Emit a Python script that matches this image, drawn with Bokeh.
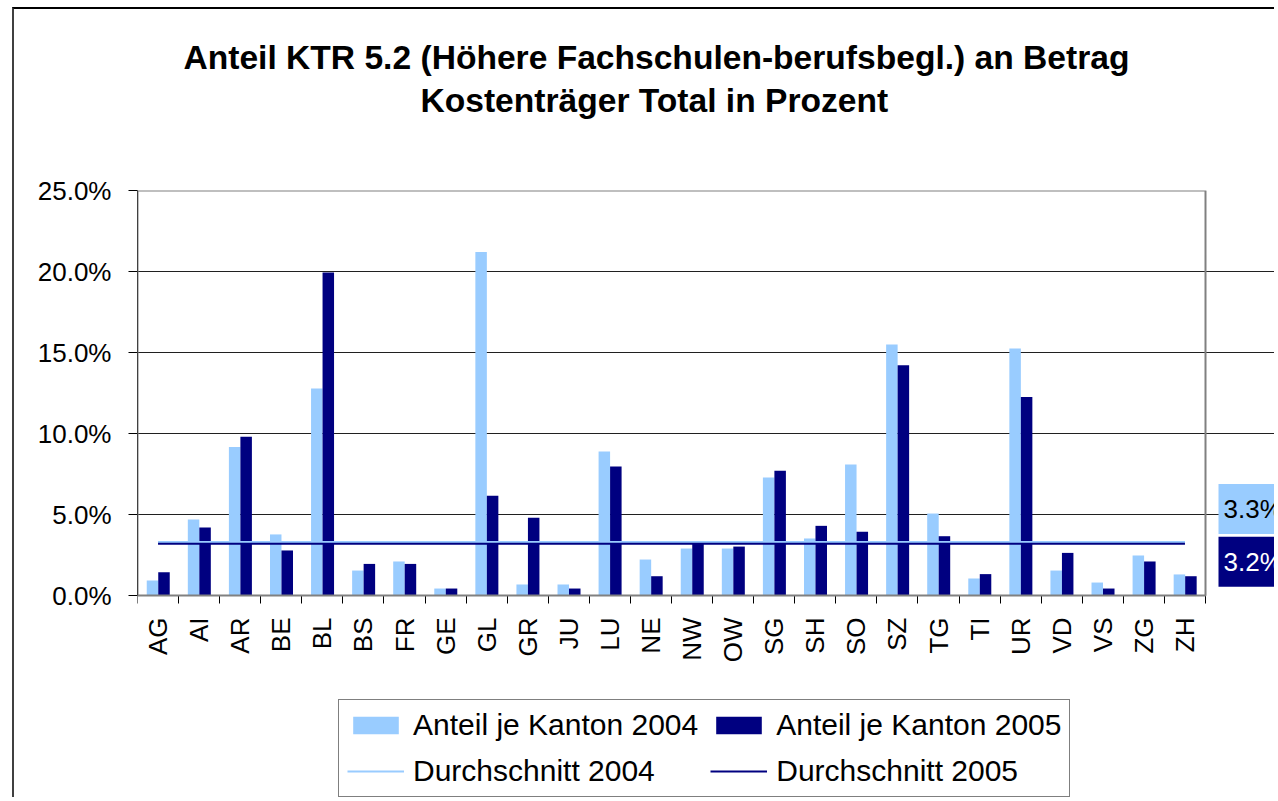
from math import pi
from bokeh.plotting import figure
from bokeh.models import (Range1d, LinearAxis, FixedTicker, BoxAnnotation,
                          PrintfTickFormatter, ColumnDataSource, Legend, LegendItem, Title, Label)
from bokeh.transform import dodge
from bokeh.embed import file_html
from bokeh.resources import INLINE

# ---------------- data ----------------
cantons = ["AG", "AI", "AR", "BE", "BL", "BS", "FR", "GE", "GL", "GR", "JU", "LU", "NE",
           "NW", "OW", "SG", "SH", "SO", "SZ", "TG", "TI", "UR", "VD", "VS", "ZG", "ZH"]
anteil_2004 = [0.93, 4.69, 9.16, 3.77, 12.78, 1.54, 2.10, 0.43, 21.20, 0.68, 0.68, 8.89, 2.22,
               2.90, 2.90, 7.28, 3.52, 8.09, 15.49, 5.06, 1.05, 15.25, 1.54, 0.80, 2.47, 1.30]
anteil_2005 = [1.44, 4.20, 9.80, 2.78, 19.94, 1.95, 1.95, 0.43, 6.15, 4.80, 0.43, 7.96, 1.19,
               3.29, 3.02, 7.70, 4.30, 3.93, 14.22, 3.66, 1.32, 12.26, 2.63, 0.43, 2.10, 1.19]
avg_2004 = 3.3
avg_2005 = 3.2
y_ticks = [0, 5, 10, 15, 20, 25]

title_1 = "Anteil KTR 5.2 (Höhere Fachschulen-berufsbegl.) an Betrag"
title_2 = "Kostenträger Total in Prozent"
series_names = ["Anteil je Kanton 2004", "Anteil je Kanton 2005",
                "Durchschnitt 2004", "Durchschnitt 2005"]

LIGHT = "#99CCFF"
DARK = "#000080"
FONT = "Liberation Sans"

n = len(cantons)
y_max = y_ticks[-1]
pos = [i + 0.5 for i in range(n)]          # category centres on a 0..n axis
src = ColumnDataSource(dict(
    pos=pos, cat=cantons, v04=anteil_2004, v05=anteil_2005,
    a04=[avg_2004] * n, a05=[avg_2005] * n,
))

# layout (pixels): plot area 137..1205 x 190..595; the frame continues to the canvas
# edges so that the value boxes and the legend can be drawn in it
W, H = 1262, 790
ORG_X, ORG_Y = 14, 9
PLOT_L, PLOT_R, PLOT_T, PLOT_B = 137, 1205, 190, 595
LEGEND_L = 338
x_end = n * (ORG_X + W - PLOT_L) / (PLOT_R - PLOT_L)
y_start = -y_max * (ORG_Y + H - PLOT_B) / (PLOT_B - PLOT_T)

p = figure(x_range=Range1d(0, x_end), y_range=Range1d(y_start, y_max),
           width=W, height=H, output_backend="svg", toolbar_location=None,
           x_axis_location=None,
           min_border_left=PLOT_L - ORG_X, min_border_right=0,
           min_border_top=PLOT_T - ORG_Y, min_border_bottom=0,
           background_fill_color="white", border_fill_color="white")
p.styles = {"margin-left": "12px", "margin-top": "7px",
            "border-left": "2px solid #404040", "border-top": "2px solid #000000"}
p.outline_line_color = None

# titles (spacer closest to the plot, then line 2, then line 1)
p.add_layout(Title(text=" ", text_font_size="2px", standoff=68), "above")
p.add_layout(Title(text=title_2, text_font=FONT, text_font_style="bold", text_font_size="33.6px",
                   text_color="black", align="left", offset=283, standoff=0), "above")
p.title.text = title_1
p.title.text_font = FONT
p.title.text_font_style = "bold"
p.title.text_font_size = "33.6px"
p.title.text_color = "black"
p.title.align = "left"
p.title.offset = 46
p.title.standoff = 8

# plot-area border
p.add_layout(BoxAnnotation(left=0, right=n, bottom=0, top=y_max, fill_alpha=0,
                           line_color="#808080", line_alpha=1, line_width=2))

# bars
r04 = p.vbar(x=dodge("pos", -0.135), top="v04", width=0.28, source=src,
             fill_color=LIGHT, line_color=None)
r05 = p.vbar(x=dodge("pos", 0.145), top="v05", width=0.28, source=src,
             fill_color=DARK, line_color=None)
# average lines
l04 = p.line(x="pos", y="a04", source=src, line_color=LIGHT, line_width=2)
l05 = p.line(x="pos", y="a05", source=src, line_color=DARK, line_width=2)

# y axis
ya = p.yaxis[0]
ya.ticker = FixedTicker(ticks=y_ticks)
ya.bounds = (0, y_max)
ya.formatter = PrintfTickFormatter(format="%.1f%%")
ya.major_label_text_font = FONT
ya.major_label_text_font_size = "26px"
ya.major_label_text_color = "black"
ya.axis_line_color = "black"
ya.major_tick_line_color = "black"
ya.major_tick_out = 9
ya.major_tick_in = 0
ya.minor_tick_line_color = None
ya.major_label_standoff = 17

p.ygrid.ticker = FixedTicker(ticks=y_ticks[1:-1])
p.ygrid.grid_line_color = "#202020"
p.ygrid.bounds = (0, n)
p.xgrid.grid_line_color = None

# x axis at y = 0: boundary ticks + category labels
tick_axis = LinearAxis(ticker=FixedTicker(ticks=list(range(n + 1))), bounds=(0, n),
                       fixed_location=0,
                       axis_line_color="black", major_tick_line_color="black",
                       major_tick_out=8, major_tick_in=0, minor_tick_line_color=None,
                       major_label_text_font_size="1px", major_label_text_alpha=0,
                       major_label_standoff=0)
p.add_layout(tick_axis, "below")
cat_axis = LinearAxis(ticker=FixedTicker(ticks=pos), bounds=(0, n), fixed_location=0,
                      major_label_overrides={x: c for x, c in zip(pos, cantons)},
                      axis_line_color=None, major_tick_line_color=None,
                      major_tick_out=0, major_tick_in=0,
                      minor_tick_line_color=None,
                      major_label_orientation=pi / 2, major_label_standoff=22,
                      major_label_text_font=FONT, major_label_text_font_size="26px",
                      major_label_text_color="black")
p.add_layout(cat_axis, "below")

# average value labels at right
lab04 = Label(x=n, y=avg_2004, x_offset=13, y_offset=33, text=f"{avg_2004:.1f}%",
              text_font=FONT, text_font_size="26px", text_color="black", text_baseline="middle",
              background_fill_color=LIGHT, padding=(5, 10))
lab05 = Label(x=n, y=avg_2005, x_offset=13, y_offset=-18, text=f"{avg_2005:.1f}%",
              text_font=FONT, text_font_size="26px", text_color="white", text_baseline="middle",
              background_fill_color=DARK, padding=(5, 10))
p.add_layout(lab04)
p.add_layout(lab05)

legend = Legend(items=[LegendItem(label=series_names[0], renderers=[r04]),
                       LegendItem(label=series_names[1], renderers=[r05]),
                       LegendItem(label=series_names[2], renderers=[l04]),
                       LegendItem(label=series_names[3], renderers=[l05])],
                orientation="horizontal", ncols=2, location=(LEGEND_L - PLOT_L, 2),
                label_text_font=FONT, label_text_font_size="30px", label_text_color="black",
                glyph_width=57, glyph_height=22, label_standoff=9, spacing=12, padding=8,
                margin=0, border_line_color="black", border_line_width=1,
                background_fill_color="white", background_fill_alpha=1)
p.add_layout(legend, "center")

open("out.html", "w").write(file_html(p, INLINE))
